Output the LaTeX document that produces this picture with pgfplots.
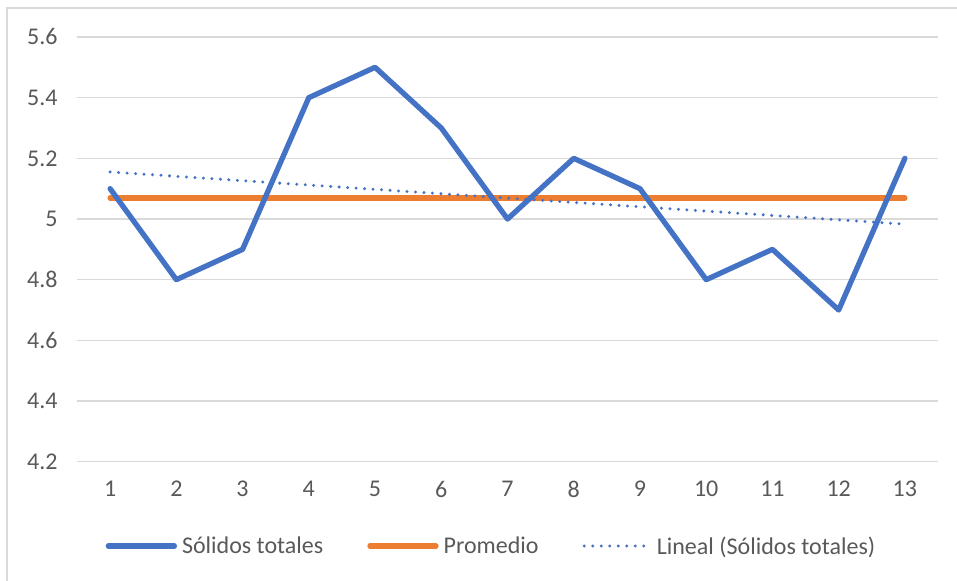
\documentclass[border=0pt]{standalone}
\usepackage{pgfplots}
\pgfplotsset{compat=1.18}
\usepackage{fontspec}
\setmainfont{Carlito}
\definecolor{xblue}{HTML}{4472C4}
\definecolor{xorange}{HTML}{ED7D31}
\definecolor{xgrid}{HTML}{D9D9D9}
\definecolor{xtext}{HTML}{595959}
\begin{document}
\begin{tikzpicture}[x=1bp,y=1bp]
\useasboundingbox (0,0) rectangle (957,581);
\draw[xgrid, line width=1.5bp] (7,0) -- (7,573) -- (957,573);
\begin{axis}[
  at={(77bp,119.3bp)}, anchor=south west,
  scale only axis, width=861bp, height=424.7bp,
  xmin=0.5, xmax=13.5, ymin=4.2, ymax=5.6,
  xtick={1,2,3,4,5,6,7,8,9,10,11,12,13},
  ytick={4.2,4.4,4.6,4.8,5,5.2,5.4,5.6},
  axis line style={draw=none},
  major tick length=0pt,
  ymajorgrids, grid style={xgrid, line width=1.3bp},
  ticklabel style={font=\fontsize{24bp}{29bp}\selectfont, text=xtext},
  /pgf/number format/assume math mode=true,
  xticklabel shift=16bp, yticklabel shift=16bp,
  clip=false,
  legend columns=3,
  legend style={at={(0.4814,-0.1985)}, anchor=center, draw=none, fill=none,
    font=\fontsize{24bp}{29bp}\selectfont, text=xtext,
    /tikz/every odd column/.append style={column sep=3bp},
    /tikz/every even column/.append style={column sep=42bp}},
  legend image code/.code={\draw[#1, line cap=round] (0bp,0bp) -- (66bp,0bp);},
]
\addlegendimage{xblue, line width=5.3bp}
\addlegendentry{Sólidos totales}
\addlegendimage{xorange, line width=5.3bp}
\addlegendentry{Promedio}
\addlegendimage{xblue, line width=3.3bp, dash pattern=on 0bp off 8.5bp}
\addlegendentry{Lineal (Sólidos totales)}
\addplot[xorange, line width=5.3bp, line cap=round, forget plot] coordinates {
  (1,5.069)(2,5.069)(3,5.069)(4,5.069)(5,5.069)(6,5.069)(7,5.069)
  (8,5.069)(9,5.069)(10,5.069)(11,5.069)(12,5.069)(13,5.069)};
\addplot[xblue, line width=5.3bp, line join=round, line cap=round, forget plot] coordinates {
  (1,5.1)(2,4.8)(3,4.9)(4,5.4)(5,5.5)(6,5.3)(7,5.0)
  (8,5.2)(9,5.1)(10,4.8)(11,4.9)(12,4.7)(13,5.2)};
\addplot[xblue, line width=3.3bp, line cap=round, dash pattern=on 0bp off 8.5bp, forget plot] coordinates {
  (1,5.155)(13,4.983)};
\end{axis}
\end{tikzpicture}
\end{document}
